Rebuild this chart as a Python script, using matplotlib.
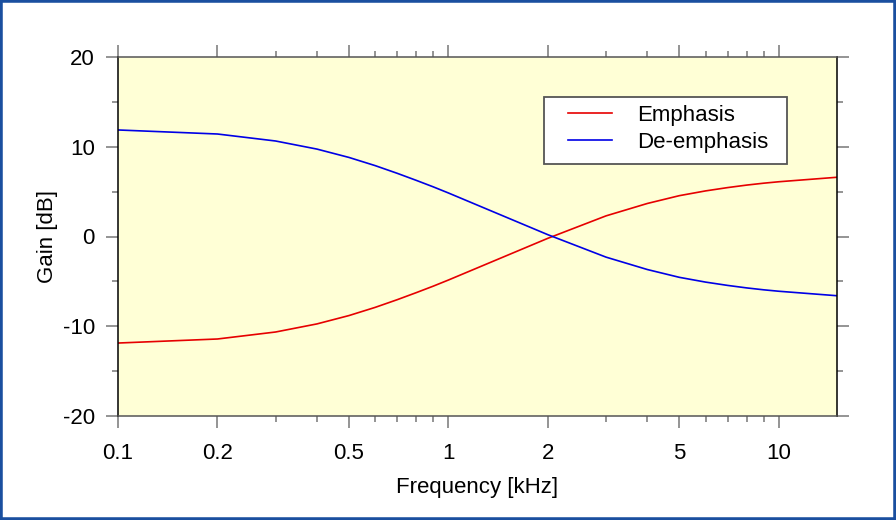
import matplotlib
matplotlib.use("Agg")
import matplotlib.pyplot as plt
from matplotlib.ticker import FixedLocator, NullFormatter, FixedFormatter
from matplotlib.patches import Rectangle

# ---- data ----
freq_khz = [0.1, 0.2, 0.3, 0.4, 0.5, 0.6, 0.7, 0.8, 0.9, 1.0,
            2.0, 3.0, 4.0, 5.0, 6.0, 7.0, 8.0, 9.0, 10.0, 15.0]
emphasis_db = [-11.87, -11.42, -10.64, -9.74, -8.81, -7.9, -7.04, -6.25, -5.53, -4.85,
               -0.2, 2.3, 3.68, 4.55, 5.08, 5.45, 5.73, 5.94, 6.1, 6.6]
deemphasis_db = [11.87, 11.42, 10.64, 9.74, 8.81, 7.9, 7.04, 6.25, 5.53, 4.85,
                 0.2, -2.3, -3.68, -4.55, -5.08, -5.45, -5.73, -5.94, -6.1, -6.6]
series_names = ["Emphasis", "De-emphasis"]
x_major = [0.1, 0.2, 0.5, 1, 2, 5, 10]
x_major_labels = ["0.1", "0.2", "0.5", "1", "2", "5", "10"]
x_minor = [0.3, 0.4, 0.6, 0.7, 0.8, 0.9, 3, 4, 6, 7, 8, 9]
y_major = [-20, -10, 0, 10, 20]
y_minor = [-15, -5, 5, 15]

plt.rcParams['font.family'] = ['Liberation Sans', 'DejaVu Sans']
plt.rcParams['font.size'] = 16
plt.rcParams['axes.unicode_minus'] = False

fig = plt.figure(figsize=(8.96, 5.2), dpi=100)
fig.patch.set_facecolor('white')
W, H = 896, 520
ax = fig.add_axes([118 / W, 1 - 416 / H, (837 - 118) / W, (416 - 57) / H])
ax.set_facecolor('#ffffd6')

ax.plot(freq_khz, emphasis_db, color='#e60000', lw=1.2, label=series_names[0])
ax.plot(freq_khz, deemphasis_db, color='#0000e6', lw=1.2, label=series_names[1])

ax.set_xscale('log')
ax.set_xlim(0.1, 15)
ax.set_ylim(-20, 20)
ax.xaxis.set_major_locator(FixedLocator(x_major))
ax.xaxis.set_major_formatter(FixedFormatter(x_major_labels))
ax.xaxis.set_minor_locator(FixedLocator(x_minor))
ax.xaxis.set_minor_formatter(NullFormatter())
ax.yaxis.set_major_locator(FixedLocator(y_major))
ax.yaxis.set_minor_locator(FixedLocator(y_minor))
ax.yaxis.set_minor_formatter(NullFormatter())

ax.tick_params(which='both', direction='out', top=True, right=True,
               color='#777777', width=1.1)
ax.tick_params(which='major', length=8.6, labelsize=16)
ax.tick_params(which='minor', length=4.3)
ax.tick_params(axis='x', which='major', pad=10.5)
ax.tick_params(axis='y', which='major', pad=8)

for side in ['left', 'right']:
    ax.spines[side].set_color('black')
    ax.spines[side].set_linewidth(1.1)
for side in ['top', 'bottom']:
    ax.spines[side].set_color('#555555')
    ax.spines[side].set_linewidth(1.1)

ax.set_xlabel('Frequency [kHz]', fontsize=16, labelpad=9.5)
ax.set_ylabel('Gain [dB]', fontsize=16, labelpad=3.6)

# legend frame (box drawn in axes coordinates)
x0, x1 = (544 - 118) / 719, (787 - 118) / 719
y0, y1 = (416 - 164) / 359, (416 - 97) / 359
ax.add_patch(Rectangle((x0, y0), x1 - x0, y1 - y0, transform=ax.transAxes,
                       facecolor='white', edgecolor='#555555', linewidth=1.3,
                       zorder=4))
leg = ax.legend(loc='upper left', bbox_to_anchor=((568 - 118) / 719, (416 - 104.5) / 359),
                frameon=False, fontsize=16, handlelength=2.0, handletextpad=1.1,
                borderpad=0, labelspacing=0.28, borderaxespad=0)
leg.set_zorder(5)

fig.patches.append(Rectangle((0, 0), 1, 1, transform=fig.transFigure,
                             fill=False, edgecolor='#1a4f9f', linewidth=4))

fig.savefig('out.png', dpi=100)
